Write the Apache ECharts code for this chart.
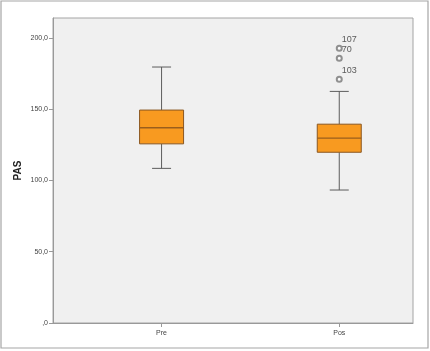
<!DOCTYPE html>
<html>
<head>
<meta charset="utf-8">
<script src="https://cdn.jsdelivr.net/npm/echarts@6/dist/echarts.min.js"></script>
<style>
html,body{margin:0;padding:0;background:#fff;}
#c{width:430px;height:351px;}
</style>
</head>
<body>
<div id="c"></div>
<script>
// Data
const categories = ['Pre', 'Pos'];
// [min, Q1, median, Q3, max]
const boxStats = [
  [108.5, 125.7, 137.0, 149.4, 179.6],
  [93.3, 119.8, 129.7, 139.5, 162.5]
];
const outlierPoints = [[1, 192.8], [1, 185.7], [1, 171.0]];
const outlierLabels = ['107', '70', '103'];
const yTicks = [0, 50, 100, 150, 200];

const FONT = '"Liberation Sans", Arial, sans-serif';
const chart = echarts.init(document.getElementById('c'), null, {renderer: 'canvas'});

function fmtY(v) {
  if (v === 0) return ',0';
  return v.toFixed(1).replace('.', ',');
}

const option = {
  animation: false,
  backgroundColor: '#ffffff',
  graphic: [{
    type: 'rect',
    shape: {x: 1, y: 1, width: 427, height: 347},
    style: {fill: 'none', stroke: '#a6a6a6', lineWidth: 1.2},
    silent: true,
    z: 100
  }],
  grid: {
    left: 53, right: 17, top: 18, bottom: 28,
    show: true, backgroundColor: '#f0f0f0', borderColor: '#a4a4a4', borderWidth: 1
  },
  xAxis: {
    type: 'value',
    min: -0.611, max: 1.415,
    splitLine: {show: false},
    axisLine: {show: true, onZero: false, lineStyle: {color: '#999'}},
    axisTick: {show: true, length: 4, lineStyle: {color: '#999'}, customValues: [0, 1]},
    axisLabel: {
      customValues: [0, 1], margin: 7, color: '#444', fontSize: 7, fontFamily: FONT,
      formatter: v => categories[Math.round(v)] || ''
    }
  },
  yAxis: {
    type: 'value',
    min: 0, max: 214,
    name: 'PAS', nameLocation: 'middle', nameGap: 30, nameMoveOverlap: false,
    nameTextStyle: {fontWeight: 'bold', fontSize: 10, color: '#222', fontFamily: FONT},
    splitLine: {show: false},
    axisLine: {show: true, onZero: false, lineStyle: {color: '#999'}},
    axisTick: {show: true, length: 4, lineStyle: {color: '#999'}, customValues: yTicks},
    axisLabel: {customValues: yTicks, margin: 5, color: '#444', fontSize: 7, fontFamily: FONT, formatter: fmtY}
  },
  series: [{
    type: 'custom',
    data: boxStats.map((s, i) => [i].concat(s)),
    encode: {x: 0, y: [1, 2, 3, 4, 5]},
    renderItem: function (params, api) {
      const i = api.value(0);
      const pMin = api.coord([i, api.value(1)]);
      const pQ1 = api.coord([i, api.value(2)]);
      const pMed = api.coord([i, api.value(3)]);
      const pQ3 = api.coord([i, api.value(4)]);
      const pMax = api.coord([i, api.value(5)]);
      const cx = pMin[0];
      const bw = 44, cw = 19;
      const wStyle = {stroke: '#5c5c5c', lineWidth: 1};
      const bStroke = '#8a5720';
      return {
        type: 'group',
        children: [
          {type: 'line', shape: {x1: cx, y1: pMax[1], x2: cx, y2: pQ3[1]}, style: wStyle},
          {type: 'line', shape: {x1: cx, y1: pQ1[1], x2: cx, y2: pMin[1]}, style: wStyle},
          {type: 'line', shape: {x1: cx - cw / 2, y1: pMax[1], x2: cx + cw / 2, y2: pMax[1]}, style: wStyle},
          {type: 'line', shape: {x1: cx - cw / 2, y1: pMin[1], x2: cx + cw / 2, y2: pMin[1]}, style: wStyle},
          {type: 'rect', shape: {x: cx - bw / 2, y: pQ3[1], width: bw, height: pQ1[1] - pQ3[1]},
            style: {fill: '#f89a20', stroke: bStroke, lineWidth: 1}},
          {type: 'line', shape: {x1: cx - bw / 2, y1: pMed[1], x2: cx + bw / 2, y2: pMed[1]},
            style: {stroke: '#9a5e1c', lineWidth: 1.3}}
        ]
      };
    }
  }, {
    type: 'scatter',
    symbol: 'emptyCircle',
    symbolSize: 5,
    itemStyle: {color: '#777', borderWidth: 0.7},
    data: outlierPoints.map((p, i) => ({
      value: p,
      label: {
        show: true, formatter: outlierLabels[i], position: 'right', distance: 0,
        offset: [-1, -9], fontSize: 9, color: '#333', fontFamily: FONT
      }
    }))
  }]
};
chart.setOption(option);
</script>
</body>
</html>
